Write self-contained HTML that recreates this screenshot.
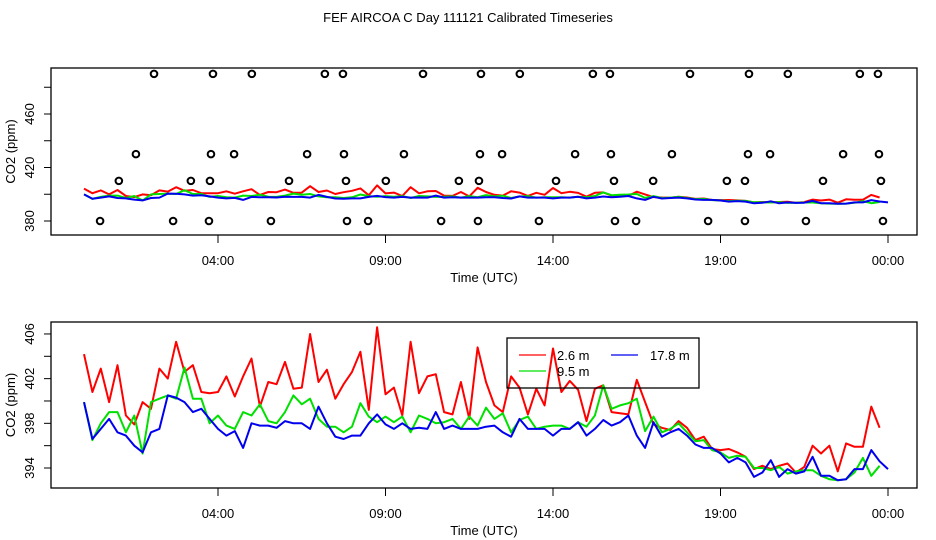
<!DOCTYPE html>
<html><head><meta charset="utf-8"><style>
html,body{margin:0;padding:0;background:#fff;}
svg{display:block;font-family:"Liberation Sans",Arial,sans-serif;}
</style></head><body>
<svg id="chart" width="936" height="540" viewBox="0 0 936 540">
<text x="468" y="22" text-anchor="middle" font-size="13">FEF AIRCOA C  Day 111121  Calibrated Timeseries</text>
</svg>
<script>
// ---- data (hours since 00:00 UTC, quarter-hour steps) ----
const red = [404.2,400.8,402.9,399.9,403.2,398.7,397.9,399.9,399.3,402.9,402,405.3,402.6,403.2,400.8,400.7,400.8,402.2,400.4,402.2,403.8,399.5,401.7,401.5,403.5,401.1,401.2,406,401.7,402.8,400.2,401.5,402.6,404.4,399.2,406.6,400.6,401.2,398.7,405.3,400.7,402.2,402.4,399,398.8,401.7,398.4,404.8,401.7,399.6,399,402.2,401.2,398.8,401.1,399.6,404.7,400.8,401.8,401,398.2,401.1,401.4,399,398.9,398.8,401.9,399.9,397.9,397.6,397.4,398.2,397.6,396.5,396.8,395.7,395.6,395.7,395.4,395,393.9,394.2,393.9,394.2,394.4,393.6,394.1,396,395.3,396,393.7,396.2,395.9,395.9,399.5,397.6];
const green = [399.9,396.5,398,399,399,397.2,398.7,395.3,399.9,400.2,400.5,400.2,403,400.2,400.2,398,398.7,397.8,397.5,399,398.7,399.7,398.2,398,399,400.5,399.7,400.2,398.4,397.7,397.7,397.2,397.7,399.8,398.6,398.1,398.6,398.1,398.6,397.2,398.7,398.4,398,398.1,398.4,397.5,398.6,397.8,399.4,398.4,398.9,397.2,398.3,398.6,397.5,397.7,397.8,397.8,397.5,398.1,397.7,398.7,401.4,399.3,399.6,399.8,400.2,397.3,398.6,397.2,397.5,398,397.2,396.4,396.5,395.6,395.4,394.9,395.1,395,394,394,393.8,394.1,393.5,393.7,393.8,393.8,393.3,393,392.9,393,393.6,394.9,393.3,394.2];
const blue = [399.9,396.6,397.5,398.4,397.2,396.9,396,395.4,397.2,397.5,400.5,400.3,399.9,399,399.3,398.4,397.5,396.9,397.3,395.8,398,397.8,397.8,397.6,398.2,398,398,397.5,399.5,398,396.8,396.6,396.9,396.9,398,398.8,397.9,397.5,398,397.5,397.6,397.5,399,397.5,397.8,397.5,397.5,397.5,397.7,397.8,397.2,396.8,398.4,397.5,397.5,397.5,396.9,397.5,397.5,398.1,396.9,397.5,398.3,397.8,398.1,398.7,396.9,395.8,398.1,396.8,397.2,397.5,396.9,396.1,395.8,395.8,395.3,394.5,394.9,394.5,393.2,393.6,394.7,393.2,393.9,393.5,393.7,395,393.3,393.3,392.9,393,393.9,393.9,395.6,394.6,393.9];
const stepHours = 0.25;
const circ490 = [2.09,3.85,5.01,7.19,7.73,10.12,11.85,13.01,15.19,15.70,18.09,19.85,21.01,23.16,23.70];
const circ430 = [1.55,3.79,4.48,6.66,7.76,9.55,11.82,12.48,14.66,15.73,17.55,19.82,20.48,22.66,23.73];
const circ410 = [1.04,3.19,3.76,6.12,7.82,9.01,11.19,11.79,14.09,15.82,16.99,19.19,19.73,22.06,23.79];
const circ380 = [0.48,2.66,3.73,5.58,7.85,8.48,10.66,11.76,13.58,15.85,16.48,18.63,19.73,21.55,23.85];
const xTicks = [4,9,14,19,24];
const xTickLabels = ["04:00","09:00","14:00","19:00","00:00"];
const topYTicks = [380,400,420,440,460,480];
const topYLabels = [380,420,460];
const botYTicks = [394,396,398,400,402,404,406];
const botYLabels = [394,398,402,406];

const NS = "http://www.w3.org/2000/svg";
const svg = document.getElementById('chart');
function mk(tag, attrs, parent){ const e=document.createElementNS(NS,tag); for(const k in attrs) e.setAttribute(k,attrs[k]); (parent||svg).appendChild(e); return e; }
const X = h => 84 + h*33.5;
const panels = [
  {name:'top', top:68, bottom:235, y:v=>221-(v-380)*1.3375, ticks:topYTicks, labels:topYLabels},
  {name:'bottom', top:322, bottom:488, y:v=>468-(v-394)*11.17, ticks:botYTicks, labels:botYLabels}
];
panels.forEach(p=>{
  const g = mk('g',{});
  
  
  const box = mk('rect',{x:51,y:p.top,width:866,height:p.bottom-p.top,fill:'none',stroke:'#000','stroke-width':1.3},g);
  
  
  p.ticks.forEach(t=>{
    const yy=p.y(t);
    const l = mk('line',{x1:44,x2:51,y1:yy,y2:yy,stroke:'#000'},g);
    
    
  });
  p.labels.forEach(t=>{
    const yy=p.y(t);
    const tx = mk('text',{x:0,y:0,transform:`translate(34,${yy}) rotate(-90)`,'text-anchor':'middle','font-size':13},g);
    tx.textContent=String(t);
    
    
  });
  xTicks.forEach((h,i)=>{
    const l = mk('line',{x1:X(h),x2:X(h),y1:p.bottom,y2:p.bottom+8,stroke:'#000'},g);
    
    
    const tx = mk('text',{x:X(h),y:p.bottom+30,'text-anchor':'middle','font-size':13},g);
    tx.textContent=xTickLabels[i];
    
    
  });
  const xt = mk('text',{x:484,y:p.bottom+47,'text-anchor':'middle','font-size':13},g);
  xt.textContent='Time (UTC)';
  
  
  const yt = mk('text',{x:0,y:0,transform:`translate(15,${(p.top+p.bottom)/2}) rotate(-90)`,'text-anchor':'middle','font-size':13},g);
  yt.textContent='CO2 (ppm)';
  
  
  [[red,'#ff0000','2.6m'],[green,'#00e000','9.5m'],[blue,'#0000ee','17.8m']].forEach(s=>{
    const d = s[0].map((v,i)=>(i?'L':'M')+X(i*stepHours).toFixed(1)+' '+p.y(v).toFixed(1)).join(' ');
    const path = mk('path',{d:d,fill:'none',stroke:s[1],'stroke-width':2,'stroke-linejoin':'round'},g);
    
    
  });
  if(p.name==='top'){
    [[circ490,490],[circ430,430],[circ410,410],[circ380,380]].forEach(c=>{
      c[0].forEach(h=>{
        const ci = mk('circle',{cx:X(h),cy:p.y(c[1]),r:3.3,fill:'none',stroke:'#000','stroke-width':2},g);
        
        
      });
    });
  }
});
// legend (transparent background, lines show through)
const lg = mk('g',{});


mk('rect',{x:507,y:338,width:192,height:50,fill:'none',stroke:'#000','stroke-width':1.3},lg);
[[519,355,'#ff0000','2.6 m',557,'legend-entry-2-6m'],[611,355,'#0000ee','17.8 m',650,'legend-entry-17-8m'],[519,371,'#00e000','9.5 m',557,'legend-entry-9-5m']].forEach(e=>{
  const eg = mk('g',{},lg);
  
  
  mk('line',{x1:e[0],x2:e[0]+27,y1:e[1],y2:e[1],stroke:e[2],'stroke-width':1.3},eg);
  const t = mk('text',{x:e[4],y:e[1]+5,'font-size':13},eg);
  t.textContent=e[3];
});
</script>
</body></html>
